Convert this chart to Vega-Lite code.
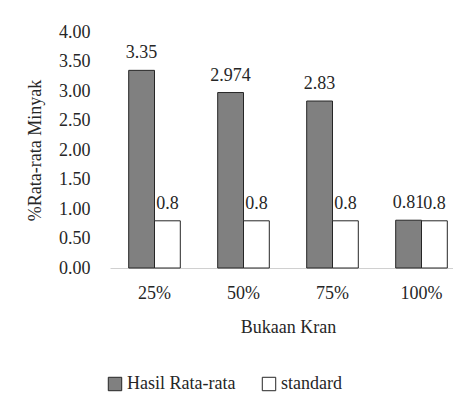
{
  "$schema": "https://vega.github.io/schema/vega-lite/v6.json",
  "autosize": "none",
  "padding": {"left": 110, "top": 32, "right": 0, "bottom": 147},
  "width": 356,
  "height": 236,
  "background": "white",
  "config": {
    "view": {"stroke": null},
    "font": "Liberation Serif",
    "axis": {"labelFont": "Liberation Serif", "titleFont": "Liberation Serif", "labelFontSize": 18, "titleFontSize": 18, "labelColor": "#262626", "titleColor": "#262626", "titleFontWeight": "normal"},
    "legend": {"labelFont": "Liberation Serif", "labelFontSize": 18, "labelColor": "#262626"}
  },
  "data": {
    "values": [
      {"kran": "25%", "series": "Hasil Rata-rata", "value": 3.35},
      {"kran": "25%", "series": "standard", "value": 0.8},
      {"kran": "50%", "series": "Hasil Rata-rata", "value": 2.974},
      {"kran": "50%", "series": "standard", "value": 0.8},
      {"kran": "75%", "series": "Hasil Rata-rata", "value": 2.83},
      {"kran": "75%", "series": "standard", "value": 0.8},
      {"kran": "100%", "series": "Hasil Rata-rata", "value": 0.81},
      {"kran": "100%", "series": "standard", "value": 0.8}
    ]
  },
  "encoding": {
    "x": {
      "field": "kran", "type": "nominal", "sort": ["25%", "50%", "75%", "100%"],
      "scale": {"paddingInner": 0.42, "paddingOuter": 0.21},
      "axis": {"title": "Bukaan Kran", "labelAngle": 0, "ticks": false, "domainColor": "#d0d0d0", "domainWidth": 1, "labelPadding": 16, "titlePadding": 16, "labelOverlap": false}
    },
    "xOffset": {"field": "series", "type": "nominal", "scale": {"domain": ["Hasil Rata-rata", "standard"], "paddingInner": 0, "paddingOuter": 0}},
    "y": {
      "field": "value", "type": "quantitative",
      "scale": {"domain": [0, 4], "nice": false},
      "axis": {"title": "%Rata-rata Minyak", "format": ".2f", "values": [0, 0.5, 1, 1.5, 2, 2.5, 3, 3.5, 4], "labelOverlap": false, "grid": false, "domain": false, "ticks": false, "labelPadding": 20, "titlePadding": 14}
    }
  },
  "layer": [
    {
      "mark": {"type": "bar", "stroke": "#262626", "strokeWidth": 1},
      "encoding": {
        "fill": {
          "field": "series", "type": "nominal",
          "scale": {"domain": ["Hasil Rata-rata", "standard"], "range": ["#808080", "#ffffff"]},
          "legend": {"title": null, "orient": "none", "direction": "horizontal", "legendX": -4, "legendY": 343, "symbolType": "square", "symbolSize": 180, "symbolStrokeColor": "#262626", "symbolStrokeWidth": 1, "columnPadding": 24, "labelOffset": 3}
        }
      }
    },
    {
      "mark": {"type": "text", "baseline": "bottom", "dy": -8, "fontSize": 18, "color": "#262626", "font": "Liberation Serif"},
      "encoding": {"text": {"field": "value", "type": "quantitative"}}
    }
  ]
}
